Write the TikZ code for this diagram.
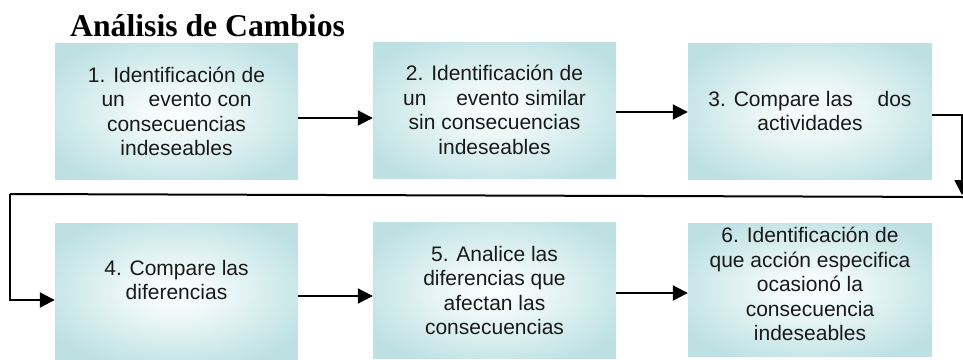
\documentclass[tikz,border=0pt]{standalone}
\usepackage{fontspec}
\setmainfont{Liberation Serif}
\newfontfamily\boxfont{Liberation Sans}
\usetikzlibrary{positioning, arrows.meta}

\pgfdeclareradialshading{boxglow}{\pgfpoint{0bp}{0bp}}{%
  rgb(0bp)=(0.98,0.995,0.995); rgb(7bp)=(0.95,0.98,0.98);
  rgb(30bp)=(0.74,0.88,0.89); rgb(50bp)=(0.74,0.88,0.89)}

\begin{document}
\begin{tikzpicture}[
    x = 1pt, y = -1pt,
    % Style for the shaded step boxes
    stepbox/.style = {shading=boxglow, minimum width=243pt, minimum height=136pt,
                      inner sep=0pt, align=center, text=black!90,
                      font=\boxfont\fontsize{21}{24.5}\selectfont},
    % Style for the thick connectors with filled heads
    flow/.style = {-{Triangle[length=15pt, width=15pt]}, line width=2pt},
    plain/.style = {line width=2pt}
]
    \useasboundingbox (0,0) rectangle (963,359);

    % --- TITLE ---
    \node[anchor=base west, inner sep=0pt, font=\bfseries\fontsize{31.7}{36}\selectfont]
        (title) at (70,36) {Análisis de Cambios};

    % --- TOP ROW ---
    \node[stepbox] (c1) at (176.5,111.5) {1. Identificación de\\un\hspace{18pt} evento con\\consecuencias\\indeseables};
    \node[stepbox] (c2) at (494.5,110) {2. Identificación de\\un\hspace{24pt} evento similar\\sin consecuencias\\indeseables};
    \node[stepbox, minimum width=244pt] (c3) at (810,111) {3. Compare las\hspace{19pt} dos\\actividades};

    % --- BOTTOM ROW ---
    \node[stepbox] (c4) at (176.5,291) {4. Compare las\\diferencias\\[-2.5pt]};
    \node[stepbox] (c5) at (494.5,290.5) {5. Analice las\\diferencias que\\afectan las\\consecuencias};
    \node[stepbox, minimum width=244pt, minimum height=133pt] (c6) at (810,289.5) {6. Identificación de\\que acción especifica\\ocasionó la\\consecuencia\\indeseables\\[-14pt]};

    % --- CONNECTORS ---
    \coordinate (down) at (962,195);
    \coordinate (back) at (963,197);
    \coordinate (left) at (10,194);

    \draw[flow] ([yshift=-6.5pt]c1.east) -- ([yshift=-6.5pt]c1.east -| c2.west);
    \draw[flow] ([yshift=-2pt]c2.east) -- ([yshift=-2pt]c2.east -| c3.west);
    \draw[flow] ([yshift=-4pt]c3.east) -| (down);
    \draw[plain] (back) -- (left);
    \draw[flow] (left) |- ([yshift=-9pt]c4.west);
    \draw[flow] ([yshift=-5pt]c4.east) -- ([yshift=-5pt]c4.east -| c5.west);
    \draw[flow] ([yshift=-2.5pt]c5.east) -- ([yshift=-2.5pt]c5.east -| c6.west);

\end{tikzpicture}
\end{document}
